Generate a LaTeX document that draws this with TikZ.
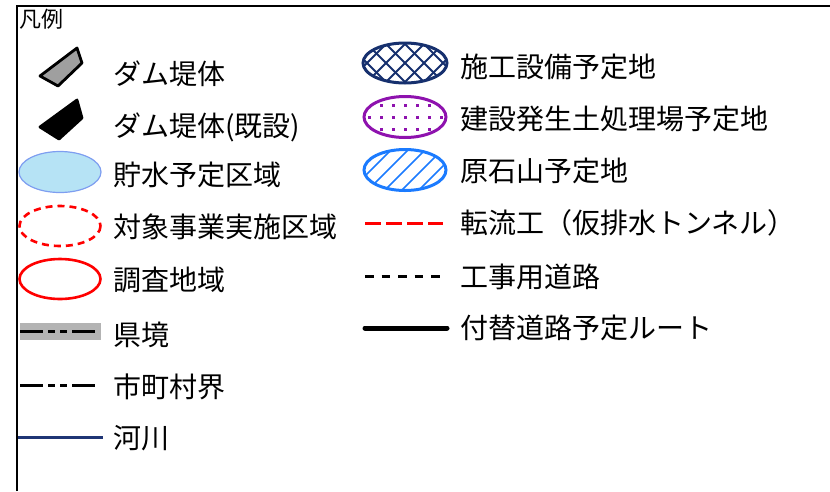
\documentclass[tikz,border=0pt]{standalone}
\usepackage{fontspec}
\setmainfont{Noto Sans CJK JP}
\usetikzlibrary{calc}
\definecolor{navy}{HTML}{16306E}
\definecolor{purp}{HTML}{8E12AE}
\definecolor{hblue}{HTML}{1B7BFF}
\definecolor{lblue}{HTML}{B6E3F5}
\definecolor{lbstroke}{HTML}{7E9EF0}
\definecolor{river}{HTML}{1F3575}
\definecolor{band}{HTML}{B3B3B3}
\tikzset{
  lbl/.style={anchor=west,inner sep=0pt,font=\fontsize{28}{31}\selectfont},
  damshape/.style={line width=2.8pt,line join=round},
  bnd/.style={dash pattern=on 23pt off 5pt on 7pt off 5pt on 7pt off 5pt}
}
\begin{document}
\begin{tikzpicture}[x=1pt,y=-1pt]
\useasboundingbox (0,0) rectangle (830,491);
% frame
\draw[line width=2pt] (16.5,491) -- (16.5,5.5) -- (832,5.5);
\node[anchor=west,inner sep=0pt,font=\fontsize{22}{24}\selectfont] (title) at (19,19) {凡例};

% ---- left column ----
% dam
\filldraw[damshape,fill=gray!75] (40,76) -- (77,48) -- (82,63) -- (58,86) -- cycle;
\node[lbl] (l1) at (113,74) {ダム堤体};
\filldraw[damshape,fill=black] (40,127) -- (77,100) -- (82,118) -- (59,139) -- cycle;
\node[lbl] (l2) at (113,127) {ダム堤体(既設)};
% reservoir
\filldraw[fill=lblue,draw=lbstroke,line width=1.2pt] (60,172) ellipse (41 and 20.5);
\node[lbl] (l3) at (113,175) {貯水予定区域};
% project area
\draw[red,line width=2.6pt,dash pattern=on 7pt off 5pt] (60,226) ellipse (40.5 and 20);
\node[lbl] (l4) at (113,227) {対象事業実施区域};
% survey area
\draw[red,line width=2.6pt] (60,279) ellipse (40.5 and 20);
\node[lbl] (l5) at (113,280) {調査地域};
% prefecture border
\fill[band] (20,323) rectangle (101,340);
\draw[line width=2.2pt,bnd] (20,331.5) -- (97,331.5);
\node[lbl] (l6) at (113,335) {県境};
% municipal border
\draw[line width=3pt,bnd] (20,385) -- (97,385);
\node[lbl] (l7) at (113,387) {市町村界};
% river
\draw[river,line width=2.2pt] (18,437.5) -- (103,437.5);
\node[lbl] (l8) at (113,438) {河川};

% ---- right column ----
% construction facility (crosshatch)
\begin{scope}
  \clip (405,63) ellipse (42 and 20);
  \foreach \k in {-5,...,5} {
    \draw[navy,line width=1.9pt] ($(405,63)+(\k*19,0)+(-40,-40)$) -- ++(80,80);
    \draw[navy,line width=1.9pt] ($(405,63)+(\k*19,0)+(-40,40)$) -- ++(80,-80);
  }
\end{scope}
\draw[navy,line width=3pt] (405,63) ellipse (42 and 20);
\node[lbl] (r1) at (460,67) {施工設備予定地};
% spoil disposal (dots)
\begin{scope}
  \clip (405,117) ellipse (41 and 20);
  \foreach \i in {-3,...,3} \foreach \j in {-1,0,1} {
    \fill[purp] ($(405,117)+(\i*12,\j*12)+(-1.5,-1.5)$) rectangle ++(3,3);
  }
\end{scope}
\draw[purp,line width=3pt] (405,117) ellipse (41 and 20.5);
\node[lbl] (r2) at (460,119) {建設発生土処理場予定地};
% quarry (hatch)
\begin{scope}
  \clip (405,170) ellipse (41 and 20.5);
  \foreach \k in {-4,...,4} {
    \draw[hblue,line width=1.7pt] ($(405,170)+(\k*17,0)+(-35,35)$) -- ++(70,-70);
  }
\end{scope}
\draw[hblue,line width=3pt] (405,170) ellipse (41 and 20.5);
\node[lbl] (r3) at (460,171) {原石山予定地};
% diversion tunnel
\draw[red,line width=3pt,dash pattern=on 16pt off 5pt] (365,223) -- (443,223);
\node[lbl] (r4) at (460,223) {転流工（仮排水トンネル）};
% work road
\draw[line width=3pt,dash pattern=on 8.5pt off 8pt] (365,276) -- (440,276);
\node[lbl] (r5) at (460,277) {工事用道路};
% relocated road
\draw[line width=5pt,line cap=round] (365,328) -- (447,328);
\node[lbl] (r6) at (460,328) {付替道路予定ルート};
\end{tikzpicture}
\end{document}
